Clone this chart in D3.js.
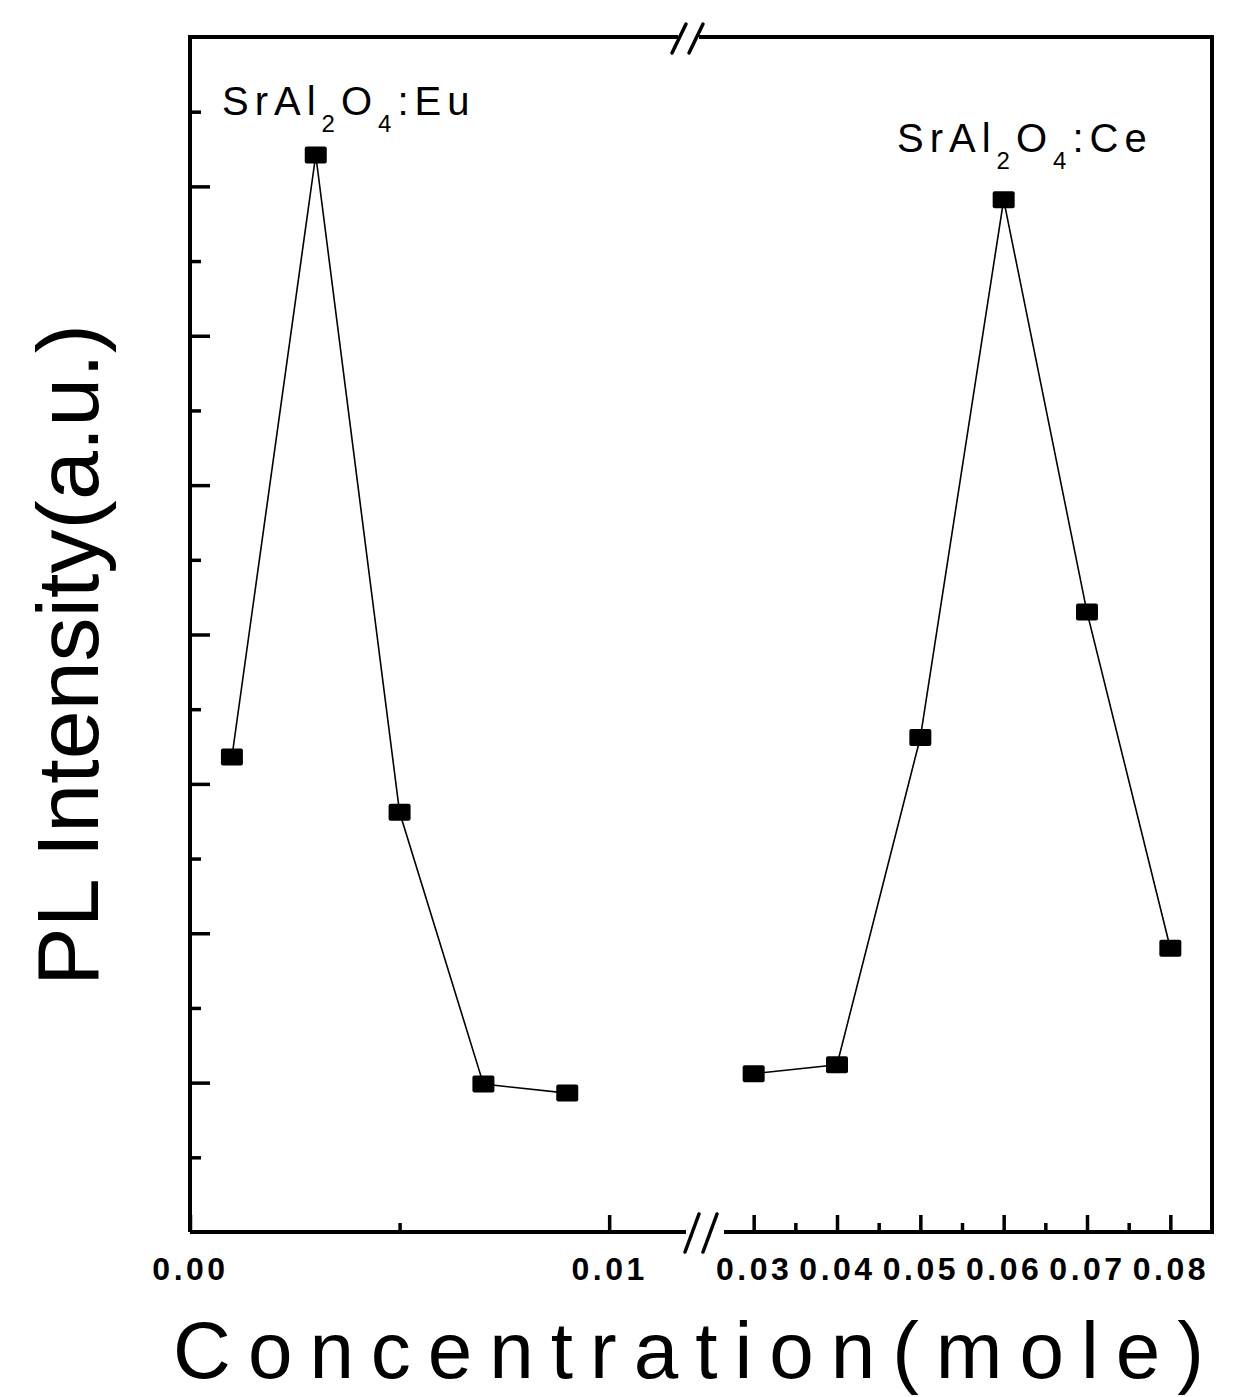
<!DOCTYPE html>
<html>
<head>
<meta charset="utf-8">
<script src="https://cdn.jsdelivr.net/npm/d3@7"></script>
<style>
  body { margin: 0; background: #fff; }
  svg { display: block; }
</style>
</head>
<body>
<div id="chart"></div>
<script>
// values (intensity in arbitrary units, one unit = two minor ticks)
const euConc = [0.001, 0.003, 0.005, 0.007, 0.009];
const euIntensity = [3.18, 7.21, 2.81, 0.99, 0.93];
const ceConc = [0.03, 0.04, 0.05, 0.06, 0.07, 0.08];
const ceIntensity = [1.06, 1.12, 3.31, 6.91, 4.15, 1.90];

const leftMajor = [0.00, 0.01];
const leftMinor = [0.005];
const rightMajor = [0.03, 0.04, 0.05, 0.06, 0.07, 0.08];
const rightMinor = [0.035, 0.045, 0.055, 0.065, 0.075];
const yMajor = [1, 2, 3, 4, 5, 6, 7];
const yMinor = [0.5, 1.5, 2.5, 3.5, 4.5, 5.5, 6.5, 7.5];

const width = 1234;
const height = 1397;
const plot = { left: 190, right: 1212, top: 37, bottom: 1232 };
const font = "'Liberation Sans', Arial, sans-serif";

const svg = d3.select("#chart")
    .append("svg")
    .attr("width", width)
    .attr("height", height);

svg.append("rect").attr("width", width).attr("height", height).attr("fill", "#fff");

// broken x axis: two linear pieces
const xLeft = d3.scaleLinear().domain([0, 0.012]).range([plot.left, 693]);
const xRight = d3.scaleLinear().domain([0.025, 0.085]).range([712, plot.right]);
const yScale = d3.scaleLinear().domain([0, 8]).range([plot.bottom, plot.top]);

const fmt = d3.format(".2f");

// frame (left, right, with gaps in top and bottom for the break)
const frame = svg.append("g").attr("stroke", "#000").attr("stroke-width", 4).attr("fill", "none");
frame.append("path").attr("d", `M${plot.left},${plot.bottom}V${plot.top}H678`);
frame.append("path").attr("d", `M699,${plot.top}H${plot.right}V${plot.bottom}H724`);
frame.append("path").attr("d", `M${plot.left},${plot.bottom}H686`);

// break marks
const brk = svg.append("g").attr("stroke", "#000").attr("stroke-width", 3.5).attr("stroke-linecap", "round");
[[672, 53, 686, 24], [689, 53, 703, 24], [685, 1252, 699, 1214], [703, 1252, 717, 1214]].forEach(d => {
    brk.append("line").attr("x1", d[0]).attr("y1", d[1]).attr("x2", d[2]).attr("y2", d[3]);
});

// y ticks (inside, no labels)
const yAxisMajor = d3.axisRight(yScale).tickValues(yMajor).tickSize(20).tickFormat("");
const yAxisMinor = d3.axisRight(yScale).tickValues(yMinor).tickSize(11).tickFormat("");
[yAxisMajor, yAxisMinor].forEach(ax => {
    const g = svg.append("g").attr("transform", `translate(${plot.left},0)`).call(ax);
    g.select(".domain").remove();
    g.selectAll("line").attr("stroke", "#000").attr("stroke-width", 3.5);
});

// x ticks, inward
const xAxes = [
    [d3.axisTop(xLeft).tickValues(leftMajor).tickSize(17), true],
    [d3.axisTop(xLeft).tickValues(leftMinor).tickSize(9), false],
    [d3.axisTop(xRight).tickValues(rightMajor).tickSize(17), true],
    [d3.axisTop(xRight).tickValues(rightMinor).tickSize(9), false]
];
xAxes.forEach(([ax, labelled]) => {
    const g = svg.append("g").attr("transform", `translate(0,${plot.bottom})`).call(ax.tickFormat(""));
    g.select(".domain").remove();
    g.selectAll("line").attr("stroke", "#000").attr("stroke-width", 3.5);
    if (labelled) {
        g.selectAll(".tick").append("text")
            .attr("y", 48)
            .attr("fill", "#000")
            .attr("text-anchor", "middle")
            .style("font-family", font)
            .style("font-size", "32px")
            .style("font-weight", "bold")
            .style("letter-spacing", "3.5px")
            .text(d => fmt(d));
    }
});

// series
const series = [
    { x: xLeft, conc: euConc, val: euIntensity },
    { x: xRight, conc: ceConc, val: ceIntensity }
];
series.forEach(s => {
    const pts = s.conc.map((c, i) => [s.x(c), yScale(s.val[i])]);
    svg.append("path")
        .attr("d", d3.line()(pts))
        .attr("fill", "none")
        .attr("stroke", "#000")
        .attr("stroke-width", 1.6);
    svg.append("g").selectAll("rect")
        .data(pts)
        .join("rect")
        .attr("x", d => d[0] - 11)
        .attr("y", d => d[1] - 8.5)
        .attr("width", 22)
        .attr("height", 17)
        .attr("rx", 2)
        .attr("fill", "#000");
});

// compound labels with subscripts
const addLabel = (x, y, dopant) => {
    const t = svg.append("text")
        .attr("x", x).attr("y", y)
        .attr("fill", "#000")
        .style("font-family", font)
        .style("font-size", "40px")
        .style("letter-spacing", "6px");
    t.append("tspan").text("SrAl");
    t.append("tspan").attr("dy", 17).style("font-size", "24px").text("2");
    t.append("tspan").attr("dy", -17).text("O");
    t.append("tspan").attr("dy", 17).style("font-size", "24px").text("4");
    t.append("tspan").attr("dy", -17).text(":" + dopant);
};
addLabel(222, 115, "Eu");
addLabel(897, 152, "Ce");

// axis titles
svg.append("text")
    .attr("x", 697).attr("y", 1378)
    .attr("text-anchor", "middle")
    .attr("fill", "#000")
    .style("font-family", font)
    .style("font-size", "80px")
    .style("letter-spacing", "17px")
    .text("Concentration(mole)");

svg.append("text")
    .attr("transform", "translate(98,655) rotate(-90)")
    .attr("text-anchor", "middle")
    .attr("fill", "#000")
    .style("font-family", font)
    .style("font-size", "88px")
    .text("PL Intensity(a.u.)");
</script>
</body>
</html>
